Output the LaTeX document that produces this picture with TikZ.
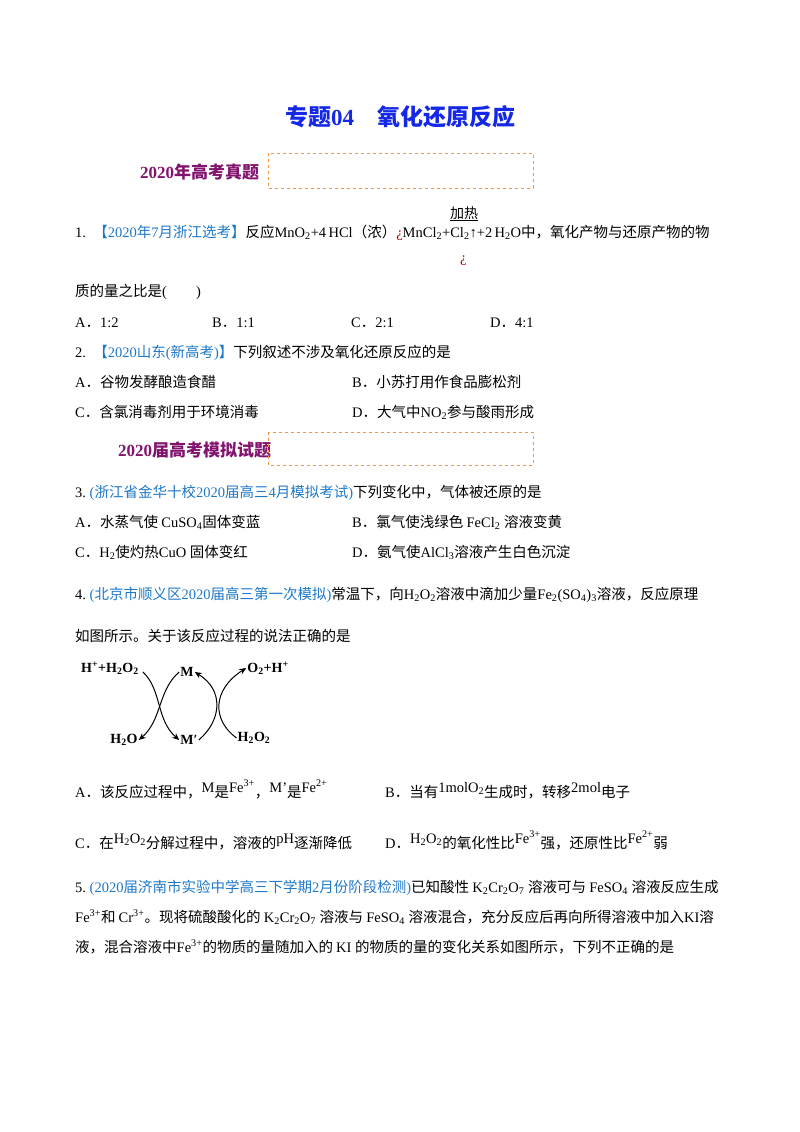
\documentclass[tikz,border=0pt]{standalone}
\usepackage{fontspec}
\setmainfont{Liberation Serif}
\newfontfamily\cjk{Noto Sans CJK SC}
\XeTeXinterchartokenstate=1
\newXeTeXintercharclass\cjkclass
\makeatletter
\def\setcjkrange#1#2{\count255=#1\relax\loop\XeTeXcharclass\count255=\cjkclass\advance\count255 1\relax\ifnum\count255<#2\repeat}
\makeatother
\setcjkrange{"4E00}{"A000}
\setcjkrange{"3000}{"3040}
\setcjkrange{"FF00}{"FFF0}
\XeTeXinterchartoks 0 \cjkclass = {\cjk}
\XeTeXinterchartoks 4095 \cjkclass = {\cjk}
\XeTeXinterchartoks \cjkclass 0 = {\rmfamily}
\XeTeXinterchartoks 4095 0 = {\rmfamily}
\usetikzlibrary{arrows.meta}
\definecolor{qblue}{RGB}{30,120,200}
\definecolor{tblue}{RGB}{20,40,230}
\definecolor{hpurple}{RGB}{130,20,110}
\definecolor{dorange}{RGB}{240,150,70}
\newcommand{\sbs}[1]{\textsubscript{#1}}
\newcommand{\sps}[1]{\textsuperscript{#1}}
\begin{document}
\begin{tikzpicture}[x=1pt,y=-1pt,
  txt/.style={anchor=base west,inner sep=0pt,font=\fontsize{14.5}{17}\selectfont},
  head/.style={anchor=base west,inner sep=0pt,font=\fontsize{17}{20}\selectfont\bfseries,text=hpurple},
  hbox/.style={draw=dorange,dashed,line width=1pt},
  rx/.style={-{Stealth[length=7pt,width=6pt]},line width=1pt},
  dn/.style={anchor=center,inner sep=1pt,font=\fontsize{14}{16}\selectfont\bfseries}]
\path[use as bounding box] (0,0) rectangle (800,1132);
\node[anchor=base,inner sep=0pt,font=\fontsize{23}{27}\selectfont\bfseries,text=tblue] (title) at (400,125) {专题04\quad 氧化还原反应};
% section 1
\node[head] (h1) at (140,178) {2020年高考真题};
\draw[hbox] (268,153) rectangle (533,188);
\node[txt] (q1) at (75,237) {1.\ \ \textcolor{qblue}{【2020年7月浙江选考】}反应MnO\sbs{2}+4\,HCl（\textit{浓}）\textcolor{red!70!black}{¿}MnCl\sbs{2}+Cl\sbs{2}↑+2\,H\sbs{2}O中，氧化产物与还原产物的物};
\node[txt,font=\fontsize{14}{16}\selectfont\itshape] (jr) at (450,218) {\underline{加热}};
\node[txt,text=red!70!black] (inv) at (460,262) {¿};
\node[txt] (q1b) at (75,296) {质的量之比是(\qquad)};
\node[txt] (a1) at (75,327) {A．1:2};
\node[txt] (b1) at (212,327) {B．1:1};
\node[txt] (c1) at (351,327) {C．2:1};
\node[txt] (d1) at (490,327) {D．4:1};
\node[txt] (q2) at (75,357) {2.\ \ \textcolor{qblue}{【2020山东(新高考)】}下列叙述不涉及氧化还原反应的是};
\node[txt] (a2) at (75,387) {A．谷物发酵酿造食醋};
\node[txt] (b2) at (352,387) {B．小苏打用作食品膨松剂};
\node[txt] (c2) at (75,417) {C．含氯消毒剂用于环境消毒};
\node[txt] (d2) at (352,417) {D．大气中NO\sbs{2}参与酸雨形成};
% section 2
\node[head] (h2) at (118,456) {2020届高考模拟试题};
\draw[hbox] (268,432) rectangle (533,465);
\node[txt] (q3) at (75,497) {3.\ \textcolor{qblue}{(浙江省金华十校2020届高三4月模拟考试)}下列变化中，气体被还原的是};
\node[txt] (a3) at (75,527) {A．水蒸气使 CuSO\sbs{4}固体变蓝};
\node[txt] (b3) at (352,527) {B．氯气使浅绿色 FeCl\sbs{2} 溶液变黄};
\node[txt] (c3) at (75,557) {C．H\sbs{2}使灼热CuO 固体变红};
\node[txt] (d3) at (352,557) {D．氨气使AlCl\sbs{3}溶液产生白色沉淀};
\node[txt] (q4) at (75,599) {4.\ \textcolor{qblue}{(北京市顺义区2020届高三第一次模拟)}常温下，向H\sbs{2}O\sbs{2}溶液中滴加少量Fe\sbs{2}(SO\sbs{4})\sbs{3}溶液，反应原理};
\node[txt] (q4b) at (75,641) {如图所示。关于该反应过程的说法正确的是};
% diagram
\node[dn] (hh) at (110,668) {H\sps{+}+H\sbs{2}O\sbs{2}};
\node[dn] (m) at (187,672) {M};
\node[dn] (o2) at (268,668) {O\sbs{2}+H\sps{+}};
\node[dn] (h2o) at (124,740) {H\sbs{2}O};
\node[dn] (mp) at (189,740) {M′};
\node[dn] (h2o2) at (254,738) {H\sbs{2}O\sbs{2}};
\draw[rx] (hh.east) ++(3,4) .. controls (162,690) and (156,720) .. (mp.west);
\draw[rx] (m.west) .. controls (158,690) and (162,720) .. (h2o.east);
\draw[rx] (mp.east) .. controls (222,720) and (224,690) .. (m.east);
\draw[rx] (h2o2.west) .. controls (212,720) and (212,690) .. (o2.west);
% options
\node[txt] (a4) at (75,797) {A．该反应过程中，\raisebox{5pt}{M}是\raisebox{5pt}{Fe\sps{3+}}，\raisebox{5pt}{M'}是\raisebox{5pt}{Fe\sps{2+}}};
\node[txt] (b4) at (385,797) {B．当有\raisebox{5pt}{1molO\sbs{2}}生成时，转移\raisebox{5pt}{2mol}电子};
\node[txt] (c4) at (75,848) {C．在\raisebox{5pt}{H\sbs{2}O\sbs{2}}分解过程中，溶液的\raisebox{5pt}{pH}逐渐降低};
\node[txt] (d4) at (385,848) {D．\raisebox{5pt}{H\sbs{2}O\sbs{2}}的氧化性比\raisebox{5pt}{Fe\sps{3+}}强，还原性比\raisebox{5pt}{Fe\sps{2+}}弱};
\node[txt] (q5) at (75,892) {5.\ \textcolor{qblue}{(2020届济南市实验中学高三下学期2月份阶段检测)}已知酸性 K\sbs{2}Cr\sbs{2}O\sbs{7} 溶液可与 FeSO\sbs{4} 溶液反应生成};
\node[txt] (q5b) at (75,922) {Fe\sps{3+}和 Cr\sps{3+}。现将硫酸酸化的 K\sbs{2}Cr\sbs{2}O\sbs{7} 溶液与 FeSO\sbs{4} 溶液混合，充分反应后再向所得溶液中加入KI溶};
\node[txt] (q5c) at (75,952) {液，混合溶液中Fe\sps{3+}的物质的量随加入的 KI 的物质的量的变化关系如图所示，下列不正确的是};
\end{tikzpicture}
\end{document}
